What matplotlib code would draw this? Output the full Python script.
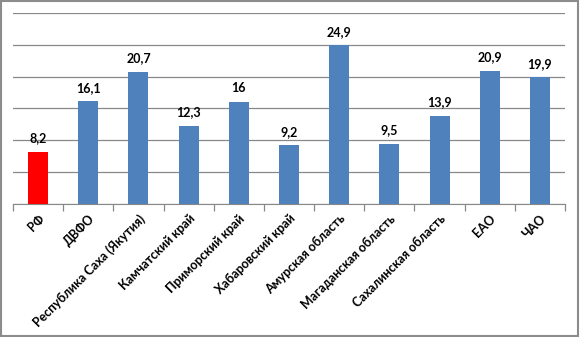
import matplotlib.pyplot as plt
import numpy as np

regions = ['РФ', 'ДВФО', 'Республика Саха (Якутия)', 'Камчатский край',
           'Приморский край', 'Хабаровский край', 'Амурская область',
           'Магаданская область', 'Сахалинская область', 'ЕАО', 'ЧАО']
values = [8.2, 16.1, 20.7, 12.3, 16.0, 9.2, 24.9, 9.5, 13.9, 20.9, 19.9]
labels = ['8,2', '16,1', '20,7', '12,3', '16', '9,2', '24,9', '9,5', '13,9', '20,9', '19,9']

plt.rcParams['font.family'] = ['Lato', 'DejaVu Sans']

fig = plt.figure(figsize=(5.8, 3.37), dpi=100)
ax = fig.add_axes([13 / 580, 133 / 337, 552 / 580, 191 / 337])

x = np.arange(len(regions))
colors = ['#FF0000'] + ['#4F81BD'] * (len(regions) - 1)
ax.bar(x, values, width=0.4, color=colors, zorder=3)

for xi, v, t in zip(x, values, labels):
    ax.text(xi, v + 1.2, t, ha='center', va='bottom', fontsize=9, fontweight='bold')

ax.set_xlim(-0.5, len(regions) - 0.5)
ax.set_ylim(0, 30)
ax.set_yticks(np.arange(0, 31, 5))
ax.yaxis.grid(True, color='#888888', linewidth=0.9, zorder=0)
ax.tick_params(axis='y', left=False, labelleft=False)

ax.set_xticks(x)
ax.set_xticklabels(regions, rotation=45, ha='right', rotation_mode='anchor',
                   fontsize=9, fontweight='bold')
ax.tick_params(axis='x', which='major', length=0, pad=6)
ax.set_xticks(np.arange(-0.5, len(regions), 1), minor=True)
ax.tick_params(axis='x', which='minor', length=5, color='#888888', width=0.9)

for s in ['top', 'left', 'right']:
    ax.spines[s].set_visible(False)
ax.spines['bottom'].set_color('#888888')

# рамка вокруг диаграммы
fig.patches.append(plt.Rectangle((0.002, 0.004), 0.994, 0.992, transform=fig.transFigure,
                                 fill=False, edgecolor='#8C8C8C', linewidth=1.5))

plt.savefig('out.png', dpi=100)
plt.close()
